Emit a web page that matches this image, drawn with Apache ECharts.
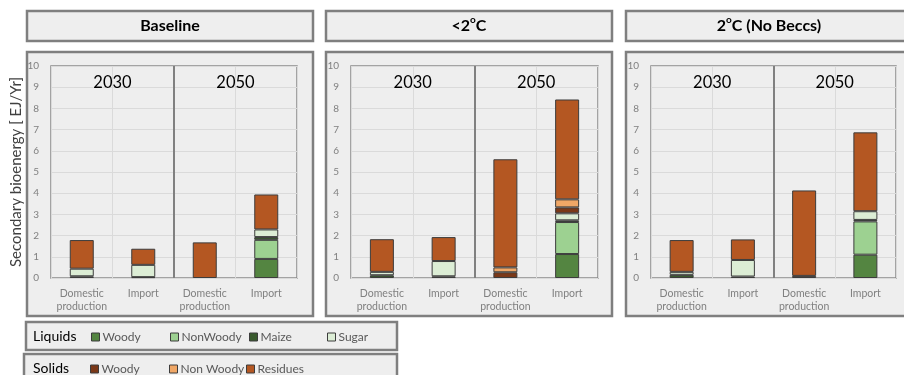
<!DOCTYPE html>
<html>
<head>
<meta charset="utf-8">
<script src="https://cdn.jsdelivr.net/npm/echarts@6/dist/echarts.min.js"></script>
<style>
  html, body { margin: 0; padding: 0; background: #ffffff; }
  #chart { width: 904px; height: 375px; }
</style>
</head>
<body>
<div id="chart"></div>
<script>
// Bars per panel: 2030 domestic, 2030 import, 2050 domestic, 2050 import
const categories = ['Domestic\nproduction', 'Import', 'Domestic\nproduction', 'Import'];
const years = ['2030', '2050'];
const scenarioTitles = ['Baseline', '<2{sup|o}C', '2{sup|o}C (No Beccs)'];
const yAxisTitle = 'Secondary bioenergy [ EJ/Yr]';

// Stack order, bottom to top
const fuelNames = ['Liquids Woody', 'Liquids NonWoody', 'Liquids Maize', 'Liquids Sugar',
                   'Solids Woody', 'Solids Non Woody', 'Solids Residues'];

// Baseline (EJ/yr)
const baseLiqWoody    = [0,    0,    0,    0.90];
const baseLiqNonWoody = [0,    0,    0,    0.90];
const baseLiqMaize    = [0.08, 0.04, 0,    0.13];
const baseLiqSugar    = [0.36, 0.58, 0,    0.36];
const baseSolWoody    = [0,    0,    0,    0];
const baseSolNonWoody = [0,    0,    0,    0];
const baseSolResidues = [1.35, 0.76, 1.68, 1.65];

// <2 degC (EJ/yr)
const lt2LiqWoody    = [0,    0,    0,    1.13];
const lt2LiqNonWoody = [0,    0,    0,    1.51];
const lt2LiqMaize    = [0.13, 0.08, 0,    0.08];
const lt2LiqSugar    = [0.16, 0.72, 0,    0.33];
const lt2SolWoody    = [0,    0,    0.27, 0.28];
const lt2SolNonWoody = [0,    0,    0.23, 0.38];
const lt2SolResidues = [1.54, 1.13, 5.10, 4.71];

// 2 degC without BECCS (EJ/yr)
const nbLiqWoody    = [0,    0,    0,    1.10];
const nbLiqNonWoody = [0,    0,    0,    1.57];
const nbLiqMaize    = [0.15, 0.07, 0,    0.07];
const nbLiqSugar    = [0.14, 0.78, 0,    0.41];
const nbSolWoody    = [0,    0,    0.10, 0];
const nbSolNonWoody = [0,    0,    0,    0];
const nbSolResidues = [1.50, 0.97, 4.03, 3.72];

const scenarioData = [
  [baseLiqWoody, baseLiqNonWoody, baseLiqMaize, baseLiqSugar, baseSolWoody, baseSolNonWoody, baseSolResidues],
  [lt2LiqWoody, lt2LiqNonWoody, lt2LiqMaize, lt2LiqSugar, lt2SolWoody, lt2SolNonWoody, lt2SolResidues],
  [nbLiqWoody, nbLiqNonWoody, nbLiqMaize, nbLiqSugar, nbSolWoody, nbSolNonWoody, nbSolResidues]
];

const fuelColors = ['#548541', '#9dd191', '#3a5b2e', '#dcedd5', '#7a3818', '#f0a766', '#b45722'];
const font = 'Lato, "Open Sans", sans-serif';
const panelFill = '#eeeeee';
const panelStroke = '#7f7f7f';

// panel layout
const panelLeft = [27, 326, 626];
const panelWidth = 286;
const plotLeft = [51, 351, 651];
const plotWidth = [246, 247, 245];
const plotTop = 66, plotHeight = 212;

// legend entry positions (one legend per entry, fixed spacing)
const legendLeft = [91, 170, 249, 327, 90, 169, 246];
const legendTop = [331, 331, 331, 331, 363, 363, 363];

const grids = [], xAxes = [], yAxes = [], series = [], graphics = [];

function box(x, y, w, h) {
  return { type: 'rect', silent: true, z: -10,
    shape: { x: x, y: y, width: w, height: h },
    style: { fill: panelFill, stroke: panelStroke, lineWidth: 2.5 } };
}

for (let p = 0; p < 3; p++) {
  grids.push({ left: plotLeft[p], top: plotTop, width: plotWidth[p], height: plotHeight,
    show: true, borderColor: '#8a8a8a', borderWidth: 1.5, backgroundColor: 'transparent' });

  xAxes.push({
    type: 'category', gridIndex: p, data: categories,
    axisLine: { show: false }, axisTick: { show: false },
    axisLabel: { interval: 0, color: '#808080', fontFamily: font, fontSize: 10.5, lineHeight: 13, margin: 9 },
    splitLine: { show: true, interval: 0, lineStyle: { color: '#dadada', width: 1 } }
  });
  xAxes.push({
    type: 'category', gridIndex: p, data: years, position: 'top',
    axisLine: { show: false }, axisTick: { show: false },
    axisLabel: { interval: 0, inside: true, color: '#000', fontFamily: font, fontSize: 16.5, margin: 8 },
    splitLine: { show: true, showMinLine: false, showMaxLine: false,
      lineStyle: { color: '#808080', width: 2 } }
  });

  yAxes.push({
    type: 'value', gridIndex: p, min: 0, max: 10, interval: 1,
    name: p === 0 ? yAxisTitle : '', nameLocation: 'middle', nameGap: 27, nameMoveOverlap: false,
    nameTextStyle: { color: '#404040', fontFamily: font, fontSize: 15 },
    axisLine: { show: false }, axisTick: { show: false },
    axisLabel: { color: '#808080', fontFamily: font, fontSize: 10, margin: 12 },
    splitLine: { lineStyle: { color: '#dadada', width: 1 } }
  });

  scenarioData[p].forEach(function (vals, f) {
    series.push({
      type: 'bar', name: fuelNames[f], stack: 'panel' + p,
      xAxisIndex: p * 2, yAxisIndex: p, barWidth: 24,
      data: vals.map(function (v) { return v === 0 ? null : v; }),
      itemStyle: { color: fuelColors[f], borderColor: '#3c3c3c', borderWidth: 1 },
      emphasis: { disabled: true }
    });
  });

  // title strip and chart frame
  graphics.push(box(panelLeft[p], 11, panelWidth, 30));
  graphics.push(box(panelLeft[p], 52, panelWidth, 264));
  graphics.push({
    type: 'text', silent: true, z: 5,
    x: panelLeft[p] + panelWidth / 2, y: 26,
    style: {
      text: scenarioTitles[p], align: 'center', verticalAlign: 'middle',
      fill: '#000', font: 'bold 16px ' + font,
      rich: { sup: { fontSize: 10, fontWeight: 'bold', fontFamily: font, verticalAlign: 'top', lineHeight: 22, fill: '#000' } }
    }
  });
}

// legend frames and group labels
graphics.push(box(26, 322, 371, 28));
graphics.push(box(24, 354, 373, 30));
graphics.push({ type: 'text', silent: true, z: 5, x: 33, y: 336,
  style: { text: 'Liquids', verticalAlign: 'middle', fill: '#000', font: '14px ' + font } });
graphics.push({ type: 'text', silent: true, z: 5, x: 33, y: 368,
  style: { text: 'Solids', verticalAlign: 'middle', fill: '#000', font: '14px ' + font } });

const legends = fuelNames.map(function (name, i) {
  return {
    data: [name], left: legendLeft[i], top: legendTop[i], padding: 0,
    itemWidth: 8, itemHeight: 8, icon: 'rect', selectedMode: false,
    formatter: function (n) { return n.replace(/^(Liquids|Solids) /, ''); },
    textStyle: { color: '#595959', fontFamily: font, fontSize: 12, padding: [0, 0, 0, -2] },
    itemStyle: { borderColor: '#3c3c3c', borderWidth: 1 }
  };
});

const chart = echarts.init(document.getElementById('chart'), null, { renderer: 'canvas' });
chart.setOption({
  backgroundColor: '#ffffff',
  animation: false,
  grid: grids,
  xAxis: xAxes,
  yAxis: yAxes,
  series: series,
  legend: legends,
  graphic: graphics
});
</script>
</body>
</html>
